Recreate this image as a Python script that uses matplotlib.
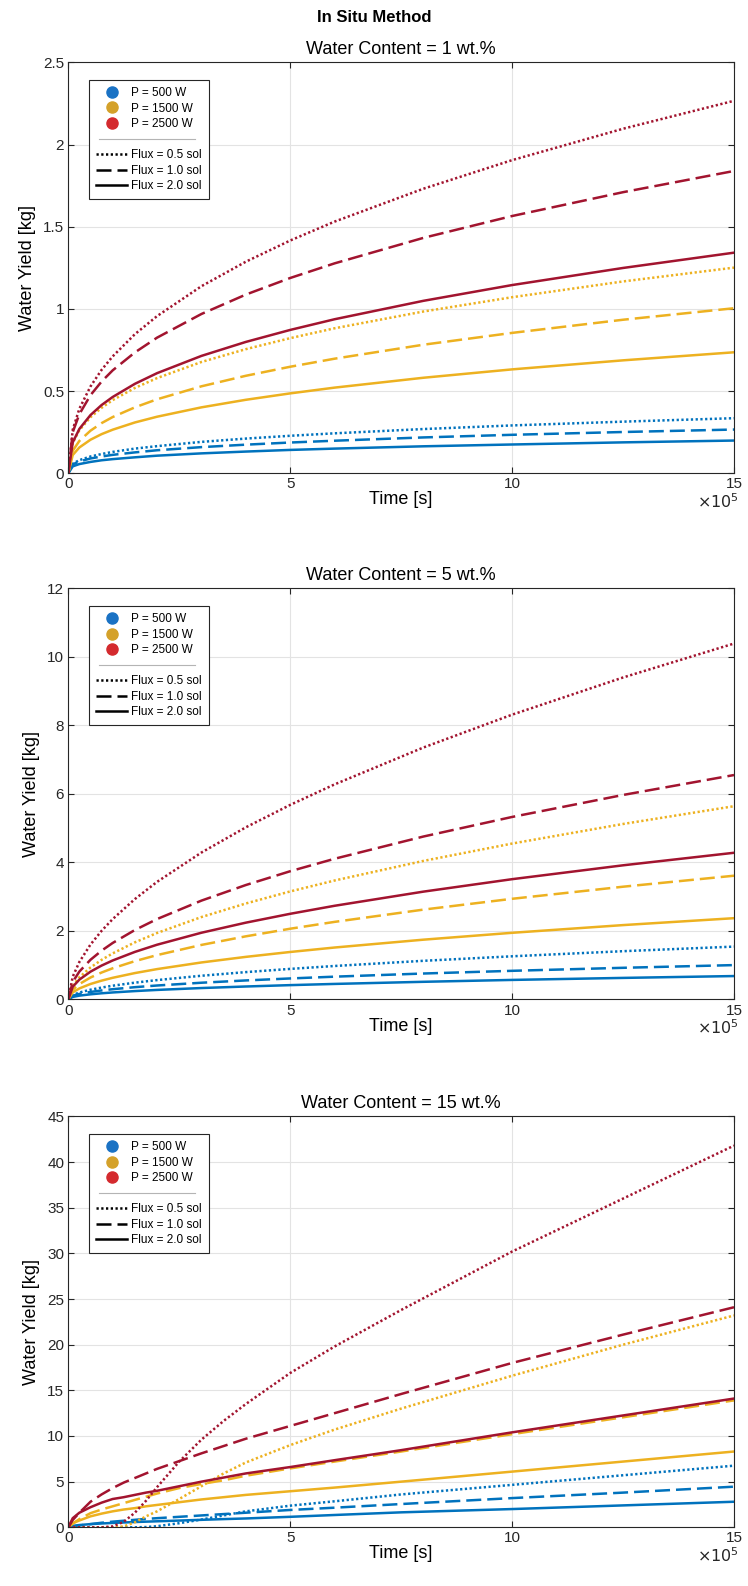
import matplotlib
matplotlib.use('Agg')
import matplotlib.pyplot as plt
from matplotlib.lines import Line2D
from matplotlib.legend_handler import HandlerBase
from matplotlib.ticker import FuncFormatter

plt.rcParams['font.family'] = ['Liberation Sans Narrow', 'Liberation Sans', 'DejaVu Sans']
plt.rcParams['mathtext.fontset'] = 'custom'
plt.rcParams['mathtext.rm'] = 'Liberation Sans Narrow'

# time axis, in units of 1e5 s
time_a = [0, 0.1, 0.25, 0.5, 0.75, 1, 1.5, 2, 3, 4, 5, 6, 8, 10, 12.5, 15]
time_b = [0, 0.1, 0.25, 0.5, 0.75, 1, 1.25, 1.5, 1.75, 2, 2.5, 3, 3.5, 4, 5, 6, 7.5, 10, 12.5, 15]

# water content = 1 wt.%
w1_p500_f05 = [0, 0.058, 0.080, 0.102, 0.117, 0.130, 0.150, 0.165, 0.191, 0.211, 0.228, 0.243, 0.269, 0.291, 0.314, 0.335]
w1_p500_f10 = [0, 0.054, 0.072, 0.090, 0.102, 0.112, 0.127, 0.140, 0.159, 0.174, 0.187, 0.198, 0.218, 0.234, 0.251, 0.266]
w1_p500_f20 = [0, 0.042, 0.056, 0.069, 0.079, 0.086, 0.097, 0.107, 0.121, 0.132, 0.142, 0.150, 0.164, 0.175, 0.188, 0.199]
w1_p1500_f05 = [0, 0.185, 0.262, 0.341, 0.398, 0.445, 0.519, 0.579, 0.677, 0.755, 0.822, 0.882, 0.984, 1.071, 1.167, 1.251]
w1_p1500_f10 = [0, 0.137, 0.197, 0.259, 0.305, 0.342, 0.401, 0.450, 0.529, 0.593, 0.648, 0.697, 0.782, 0.854, 0.934, 1.004]
w1_p1500_f20 = [0, 0.111, 0.157, 0.204, 0.238, 0.265, 0.309, 0.344, 0.401, 0.447, 0.486, 0.521, 0.581, 0.632, 0.687, 0.736]
w1_p2500_f05 = [0, 0.265, 0.393, 0.528, 0.629, 0.711, 0.846, 0.956, 1.138, 1.287, 1.416, 1.531, 1.731, 1.905, 2.096, 2.266]
w1_p2500_f10 = [0, 0.250, 0.360, 0.475, 0.558, 0.626, 0.735, 0.825, 0.969, 1.087, 1.188, 1.277, 1.432, 1.565, 1.710, 1.839]
w1_p2500_f20 = [0, 0.188, 0.270, 0.354, 0.415, 0.464, 0.544, 0.609, 0.714, 0.799, 0.872, 0.937, 1.049, 1.145, 1.249, 1.342]

# water content = 5 wt.%
w5_p500_f05 = [0, 0.126, 0.199, 0.281, 0.344, 0.398, 0.487, 0.562, 0.689, 0.795, 0.889, 0.974, 1.125, 1.257, 1.406, 1.54]
w5_p500_f10 = [0, 0.105, 0.158, 0.216, 0.260, 0.296, 0.355, 0.404, 0.485, 0.552, 0.610, 0.662, 0.754, 0.833, 0.921, 1.00]
w5_p500_f20 = [0, 0.071, 0.108, 0.147, 0.177, 0.201, 0.241, 0.275, 0.330, 0.375, 0.415, 0.450, 0.512, 0.567, 0.626, 0.68]
w5_p1500_f05 = [0, 0.396, 0.644, 0.930, 1.153, 1.342, 1.664, 1.938, 2.403, 2.799, 3.151, 3.470, 4.042, 4.549, 5.121, 5.64]
w5_p1500_f10 = [0, 0.280, 0.447, 0.637, 0.783, 0.907, 1.115, 1.292, 1.589, 1.840, 2.062, 2.262, 2.620, 2.936, 3.289, 3.61]
w5_p1500_f20 = [0, 0.204, 0.319, 0.448, 0.546, 0.629, 0.767, 0.883, 1.077, 1.240, 1.383, 1.513, 1.742, 1.943, 2.168, 2.37]
w5_p2500_f05 = [0, 0.661, 1.093, 1.600, 2.000, 2.343, 2.928, 3.431, 4.287, 5.023, 5.678, 6.277, 7.353, 8.313, 9.399, 10.39]
w5_p2500_f10 = [0, 0.509, 0.812, 1.155, 1.421, 1.646, 2.024, 2.344, 2.883, 3.338, 3.741, 4.105, 4.754, 5.326, 5.968, 6.55]
w5_p2500_f20 = [0, 0.368, 0.576, 0.808, 0.986, 1.135, 1.385, 1.595, 1.945, 2.239, 2.498, 2.732, 3.145, 3.509, 3.914, 4.28]

# water content = 15 wt.%
w15_p500_f05 = [0, 0, 0, 0, 0, 0, 0, 0, 0.03, 0.12, 0.45, 0.85, 1.3, 1.75, 2.37, 2.85, 3.6, 4.65, 5.7, 6.75]
w15_p500_f10 = [0, 0.1, 0.2, 0.35, 0.5, 0.62, 0.72, 0.82, 0.92, 1.0, 1.15, 1.3, 1.45, 1.6, 1.9, 2.15, 2.55, 3.2, 3.8, 4.45]
w15_p500_f20 = [0, 0.15, 0.25, 0.35, 0.42, 0.48, 0.53, 0.58, 0.62, 0.66, 0.74, 0.82, 0.9, 0.97, 1.15, 1.35, 1.64, 2.0, 2.4, 2.8]
w15_p1500_f05 = [0, 0, 0, 0, 0, 0, 0.1, 0.55, 1.2, 1.75, 3.1, 4.5, 5.9, 7.1, 9.0, 10.7, 13.0, 16.6, 20.0, 23.2]
w15_p1500_f10 = [0, 0.4, 0.9, 1.55, 1.95, 2.3, 2.65, 3.0, 3.35, 3.7, 4.3, 4.75, 5.15, 5.65, 6.45, 7.2, 8.3, 10.2, 12.05, 13.9]
w15_p1500_f20 = [0, 0.45, 0.75, 1.2, 1.5, 1.75, 1.95, 2.1, 2.3, 2.45, 2.75, 3.05, 3.3, 3.55, 3.95, 4.35, 5.0, 6.1, 7.2, 8.3]
w15_p2500_f05 = [0, 0, 0, 0, 0, 0.1, 0.6, 1.6, 2.9, 4.4, 7.2, 9.6, 11.65, 13.5, 16.9, 19.8, 23.8, 30.2, 36.0, 41.8]
w15_p2500_f10 = [0, 0.8, 1.6, 2.8, 3.6, 4.3, 4.9, 5.4, 5.9, 6.4, 7.25, 8.1, 8.9, 9.7, 11.1, 12.5, 14.6, 18.0, 21.1, 24.1]
w15_p2500_f20 = [0, 1.0, 1.6, 2.2, 2.7, 3.1, 3.3, 3.55, 3.8, 4.0, 4.5, 5.0, 5.45, 5.9, 6.6, 7.35, 8.45, 10.4, 12.25, 14.1]

powers = ['P = 500 W', 'P = 1500 W', 'P = 2500 W']
fluxes = ['Flux = 0.5 sol', 'Flux = 1.0 sol', 'Flux = 2.0 sol']
line_colors = ['#0072BD', '#EDB120', '#A2142F']
marker_colors = ['#1a72c4', '#d4a12a', '#d42a2e']
styles = [(0, (0.9, 1.0)), (0, (6, 2.4)), '-']

panels = [
    ('Water Content = 1 wt.%', time_a, 2.5, 0.5,
     [[w1_p500_f05, w1_p500_f10, w1_p500_f20],
      [w1_p1500_f05, w1_p1500_f10, w1_p1500_f20],
      [w1_p2500_f05, w1_p2500_f10, w1_p2500_f20]]),
    ('Water Content = 5 wt.%', time_a, 12, 2,
     [[w5_p500_f05, w5_p500_f10, w5_p500_f20],
      [w5_p1500_f05, w5_p1500_f10, w5_p1500_f20],
      [w5_p2500_f05, w5_p2500_f10, w5_p2500_f20]]),
    ('Water Content = 15 wt.%', time_b, 45, 5,
     [[w15_p500_f05, w15_p500_f10, w15_p500_f20],
      [w15_p1500_f05, w15_p1500_f10, w15_p1500_f20],
      [w15_p2500_f05, w15_p2500_f10, w15_p2500_f20]]),
]


class SeparatorHandler(HandlerBase):
    # grey rule between the power and the flux entries, MATLAB style
    def create_artists(self, legend, orig_handle, xdescent, ydescent,
                       width, height, fontsize, trans):
        y = height / 2 - ydescent
        line = Line2D([-xdescent + 2, -xdescent + width * 3.2], [y, y],
                      color='#b4b4b4', lw=0.8, transform=trans)
        return [line]


fig = plt.figure(figsize=(7.48, 15.86), dpi=100)
fig.text(0.5, 1 - 17 / 1586, 'In Situ Method', ha='center', va='center',
         fontsize=12, fontweight='bold')

bottoms = [0.7016, 0.3699, 0.0370]
for (title, t, ymax, ystep, series), b in zip(panels, bottoms):
    ax = fig.add_axes([0.0913, b, 0.890, 0.2591])
    for i in range(3):
        for j in range(3):
            ax.plot(t, series[i][j], color=line_colors[i], ls=styles[j], lw=1.8,
                    dash_capstyle='butt')
    ax.set_xlim(0, 15)
    ax.set_ylim(0, ymax)
    ax.set_xticks([0, 5, 10, 15])
    ax.set_yticks([k * ystep for k in range(int(round(ymax / ystep)) + 1)])
    ax.yaxis.set_major_formatter(FuncFormatter(lambda v, p: '%g' % v))
    ax.grid(True, color='#e3e3e3', lw=0.8)
    ax.set_axisbelow(True)
    ax.tick_params(direction='in', top=True, right=True, length=4, width=0.8,
                   labelsize=11, colors='#262626', pad=3)
    for s in ax.spines.values():
        s.set_color('#262626')
        s.set_linewidth(0.8)
    ax.set_title(title, fontsize=13, pad=6)
    ax.set_xlabel('Time [s]', fontsize=13, labelpad=0)
    ax.set_ylabel('Water Yield [kg]', fontsize=13, labelpad=5)
    ax.text(1.008, -0.069, r'$\times10^{5}$', transform=ax.transAxes,
            ha='right', va='center', fontsize=11.5, color='#262626')

    sep = Line2D([], [])
    handles = [Line2D([], [], marker='o', ls='none', color=c, ms=8) for c in marker_colors]
    handles += [sep]
    handles += [Line2D([], [], color='black', ls=st, lw=1.8) for st in styles]
    labels = powers + [''] + fluxes
    leg = ax.legend(handles, labels, loc='upper left', bbox_to_anchor=(0.0315, 0.957),
                    borderaxespad=0, fontsize=8.5, handlelength=2.6, labelspacing=0.3,
                    handletextpad=0.35, borderpad=0.6, fancybox=False, framealpha=1,
                    edgecolor='#262626', handler_map={sep: SeparatorHandler()})
    leg.get_frame().set_linewidth(0.8)

fig.savefig('out.png', dpi=100)
